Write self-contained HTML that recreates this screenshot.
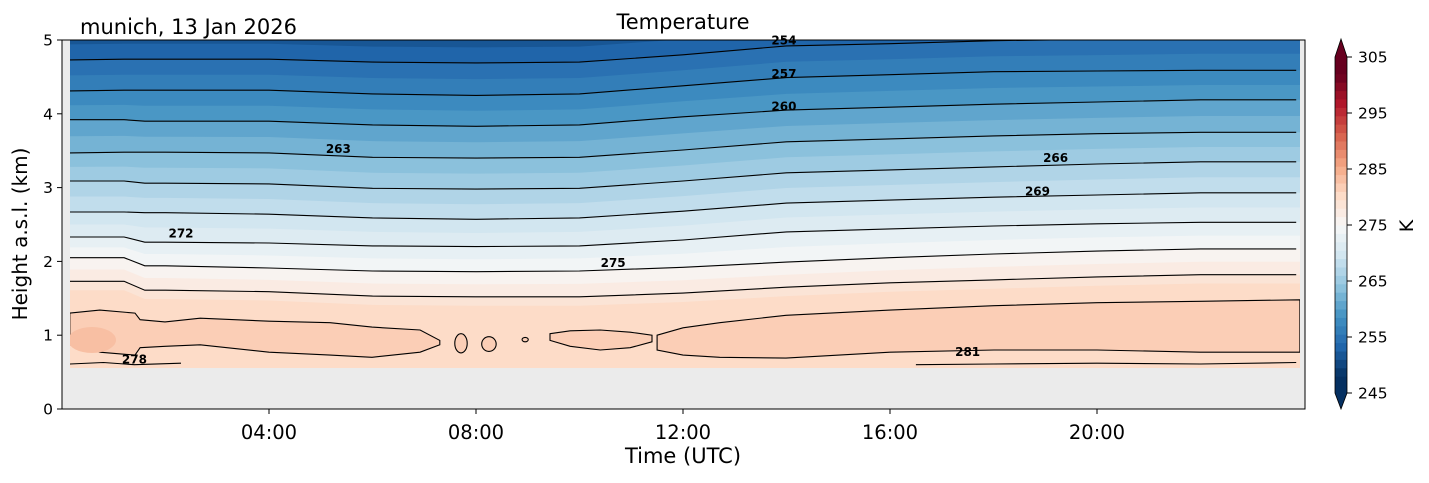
<!DOCTYPE html>
<html><head><meta charset="utf-8"><style>
body{margin:0;background:#fff;}
svg text{font-family:"DejaVu Sans","Liberation Sans",sans-serif;}
</style></head><body>
<svg id="c" width="1429" height="478" xmlns="http://www.w3.org/2000/svg">
<defs><clipPath id="dc"><rect x="70" y="40" width="1230" height="328"/></clipPath></defs>
<rect x="62" y="40" width="1243" height="369" fill="#ebebeb"/>
<g id="fills" clip-path="url(#dc)"></g>
<g id="lines" clip-path="url(#dc)"></g>
<g id="labels"></g>
<rect x="62" y="40" width="1243" height="369" fill="none" stroke="#000" stroke-width="1"/>
<g id="axes"></g>
<g id="cbar"></g>
<text x="683" y="29" font-size="21" text-anchor="middle">Temperature</text>
<text x="80" y="34" font-size="21">munich, 13 Jan 2026</text>
<text x="683" y="463" font-size="21" text-anchor="middle">Time (UTC)</text>
<text x="27" y="234" font-size="20" text-anchor="middle" transform="rotate(-90 27 234)">Height a.s.l. (km)</text>
<text x="1413" y="226" font-size="19" text-anchor="middle" transform="rotate(-90 1413 226)">K</text>
</svg>
<script>
const times=[0.15,1.2,1.6,2,4,6,8,10,12,14,16,18,20,22,23.85];
const levels=[251,254,257,260,263,266,269,272,275,278];
const line251=[5.15,5.16,5.16,5.16,5.16,5.12,5.11,5.12,5.22,5.34,5.37,5.41,5.43,5.46,5.46];
const line254=[4.73,4.74,4.74,4.74,4.74,4.70,4.69,4.70,4.80,4.92,4.95,4.99,5.01,5.04,5.04];
const line257=[4.31,4.32,4.32,4.32,4.32,4.27,4.25,4.27,4.38,4.49,4.53,4.57,4.58,4.59,4.59];
const line260=[3.92,3.92,3.90,3.90,3.90,3.85,3.83,3.85,3.96,4.05,4.09,4.13,4.16,4.19,4.19];
const line263=[3.47,3.48,3.48,3.48,3.47,3.41,3.40,3.41,3.51,3.62,3.66,3.70,3.73,3.75,3.75];
const line266=[3.09,3.09,3.06,3.06,3.05,2.99,2.98,2.99,3.09,3.20,3.24,3.28,3.32,3.35,3.35];
const line269=[2.67,2.67,2.66,2.66,2.64,2.59,2.57,2.59,2.68,2.79,2.83,2.87,2.90,2.93,2.93];
const line272=[2.33,2.33,2.26,2.26,2.25,2.21,2.20,2.21,2.29,2.40,2.44,2.48,2.51,2.53,2.53];
const line275=[2.05,2.05,1.94,1.94,1.91,1.87,1.86,1.87,1.92,1.99,2.05,2.10,2.14,2.17,2.17];
const line278=[1.73,1.73,1.61,1.61,1.59,1.53,1.52,1.52,1.57,1.65,1.71,1.75,1.79,1.82,1.82];
const blob1X=[0.15,0.73,1.41,1.51,1.99,2.67,4.0,5.18,5.99,6.92,7.30];
const blob1Top=[1.30,1.34,1.30,1.21,1.18,1.23,1.19,1.17,1.11,1.07,0.93];
const blob1Bot=[0.87,0.77,0.73,0.83,0.85,0.87,0.77,0.73,0.70,0.77,0.87];
const blob3X=[9.43,9.82,10.40,10.98,11.40];
const blob3Top=[1.02,1.06,1.07,1.04,1.00];
const blob3Bot=[0.93,0.85,0.80,0.83,0.91];
const blob2X=[11.50,12.0,12.71,13.99,16.0,18.01,20.0,21.99,23.92];
const blob2Top=[1.00,1.10,1.17,1.27,1.34,1.40,1.44,1.46,1.48];
const blob2Bot=[0.80,0.73,0.70,0.69,0.77,0.80,0.80,0.77,0.77];
const islands=[[7.71,0.89,0.12,0.13],[8.25,0.88,0.14,0.10],[8.95,0.94,0.06,0.03]];
const ground1X=[0.15,0.8,1.4,2.3];const ground1Y=[0.61,0.63,0.60,0.62];
const ground2X=[16.5,18,20,22,23.85];const ground2Y=[0.60,0.61,0.62,0.61,0.63];
const xTicks=[4,8,12,16,20];const xTickLabels=["04:00","08:00","12:00","16:00","20:00"];
const yTicks=[0,1,2,3,4,5];
const cbTicks=[245,255,265,275,285,295,305];
const contourLabels=[["254",13.95,4.99],["257",13.95,4.54],["260",13.95,4.10],["263",5.34,3.52],["266",19.2,3.40],["269",18.85,2.95],["272",2.3,2.38],["275",10.65,1.98],["278",1.4,0.67],["281",17.5,0.77]];

const lines=[line251,line254,line257,line260,line263,line266,line269,line272,line275,line278];
const sx=h=>62+h*51.75, sy=k=>409-k*73.8;
const NS="http://www.w3.org/2000/svg";
const stops=["#053061","#2166ac","#4393c3","#92c5de","#d1e5f0","#f7f7f7","#fddbc7","#f4a582","#d6604d","#b2182b","#67001f"];
function hex(c){return [1,3,5].map(i=>parseInt(c.substr(i,2),16));}
function cmap(n){n=Math.max(0,Math.min(1,n));const p=n*10,i=Math.min(9,Math.floor(p)),f=p-i;const a=hex(stops[i]),b=hex(stops[i+1]);return "rgb("+a.map((v,j)=>Math.round(v+(b[j]-v)*f)).join(",")+")";}
const bandColor=lo=>cmap((lo+0.75-248)/54);
function el(t,a,p){const e=document.createElementNS(NS,t);for(const k in a)e.setAttribute(k,a[k]);p.appendChild(e);return e;}
function pts(X,Y){return X.map((h,i)=>sx(h).toFixed(1)+","+sy(Y[i]).toFixed(1));}
const fills=document.getElementById('fills'),lg=document.getElementById('lines');
let r=el('rect',{x:70,y:40,width:1230,height:328,fill:bandColor(279.5)},fills);


function blob(X,T,B,name){const p=el('polygon',{points:pts(X,T).concat(pts(X,B).reverse()).join(" "),fill:bandColor(281),stroke:"#000","stroke-width":1.1},fills);

}
blob(blob1X,blob1Top,blob1Bot,'warm-blob-1');blob(blob3X,blob3Top,blob3Bot,'warm-blob-3');blob(blob2X,blob2Top,blob2Bot,'warm-blob-2');
islands.forEach(d=>{const e=el('ellipse',{cx:sx(d[0]),cy:sy(d[1]),rx:d[2]*51.75,ry:d[3]*73.8,fill:bandColor(281),stroke:"#000","stroke-width":1.1},fills);

});
el('ellipse',{cx:92,cy:340,rx:24,ry:13,fill:bandColor(282.5)},fills);
function up(Y,col,name){const P=pts(times,Y);const n=Y.length-1;P.push(sx(24)+","+sy(Y[n]).toFixed(1),sx(24)+",0",sx(0)+",0");const p=el('polygon',{points:[sx(0)+","+sy(Y[0])].concat(P).join(" "),fill:col},fills);

}
up(line278.map(v=>v-0.12),bandColor(278),'band-278-279');
for(let i=lines.length-1;i>=0;i--){
  const L=levels[i];
  up(lines[i],bandColor(L-1.5),'band-'+(L-3)+'-'+L);
  if(i>0){const mid=lines[i].map((v,j)=>(v+lines[i-1][j])/2);up(mid,bandColor(L-3),'band-half-'+L);}
}
lines.forEach((Y,i)=>{const p=el('polyline',{points:pts(times,Y).join(" "),fill:"none",stroke:"#000","stroke-width":1.1},lg);

});
[[ground1X,ground1Y],[ground2X,ground2Y]].forEach(g=>{const p=el('polyline',{points:pts(g[0],g[1]).join(" "),fill:"none",stroke:"#000","stroke-width":1.1},lg);

});
const lb=document.getElementById('labels');
contourLabels.forEach(c=>{const t=el('text',{x:sx(c[1]),y:sy(c[2])+4,"font-size":12,"font-weight":"bold","text-anchor":"middle"},lb);t.textContent=c[0];

});
const ax=document.getElementById('axes');
xTicks.forEach((h,i)=>{el('line',{x1:sx(h),x2:sx(h),y1:409,y2:414,stroke:"#000"},ax);const t=el('text',{x:sx(h),y:439,"font-size":19.5,"text-anchor":"middle"},ax);t.textContent=xTickLabels[i];

});
yTicks.forEach(k=>{el('line',{x1:57,x2:62,y1:sy(k),y2:sy(k),stroke:"#000"},ax);const t=el('text',{x:53,y:sy(k)+5.5,"font-size":15.5,"text-anchor":"end"},ax);t.textContent=k;

});
const cb=document.getElementById('cbar');
const cy=v=>57+(305-v)*(336/60);
for(let v=245;v<305;v+=1.5){el('rect',{x:1335,y:cy(v+1.5),width:12,height:336/40+0.5,fill:bandColor(v)},cb);}
el('polygon',{points:"1335,57 1347,57 1341,39",fill:"#67001f"},cb);
el('polygon',{points:"1335,393 1347,393 1341,409",fill:"#053061"},cb);
el('polygon',{points:"1335,57 1341,39 1347,57 1347,393 1341,409 1335,393",fill:"none",stroke:"#000","stroke-width":0.8},cb);
cbTicks.forEach(v=>{el('line',{x1:1347,x2:1352,y1:cy(v),y2:cy(v),stroke:"#000"},cb);const t=el('text',{x:1358,y:cy(v)+5.5,"font-size":15.5},cb);t.textContent=v;

});
</script>
</body></html>
